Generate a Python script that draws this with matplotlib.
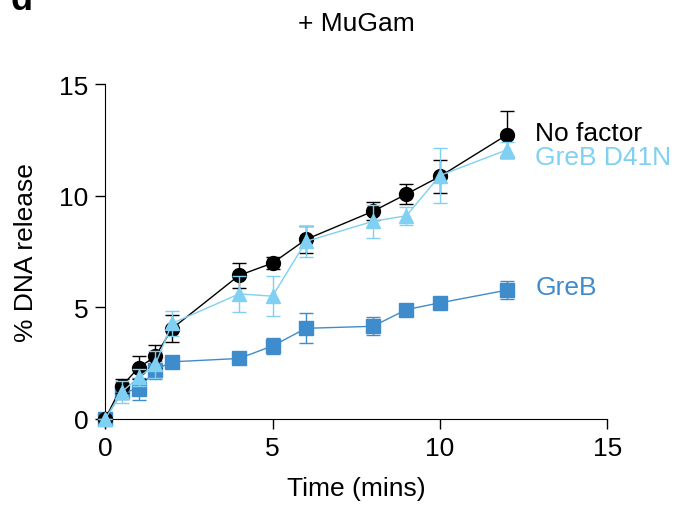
import matplotlib.pyplot as plt

plt.rcParams['font.family'] = ['Liberation Sans', 'DejaVu Sans']

# time points (mins)
time = [0, 0.5, 1, 1.5, 2, 4, 5, 6, 8, 9, 10, 12]

# % DNA release, mean and error
no_factor = [0, 1.48, 2.3, 2.8, 4.05, 6.43, 6.98, 8.04, 9.3, 10.07, 10.86, 12.72]
no_factor_err = [0, 0.3, 0.5, 0.5, 0.6, 0.57, 0.28, 0.6, 0.4, 0.44, 0.72, 1.05]

d41n = [0, 1.22, 1.86, 2.45, 4.28, 5.6, 5.5, 7.95, 8.85, 9.1, 10.9, 12.05]
d41n_err = [0, 0.5, 0.4, 0.6, 0.56, 0.82, 0.9, 0.69, 0.73, 0.4, 1.25, 0.37]

greb = [0, 1.2, 1.34, 2.2, 2.56, 2.71, 3.27, 4.06, 4.15, 4.9, 5.2, 5.77]
greb_err = [0, 0.3, 0.5, 0.4, 0.1, 0.1, 0.36, 0.67, 0.4, 0.15, 0.15, 0.4]

black = '#000000'
light_blue = '#7fd0f3'
blue = '#3f8ccc'

fig = plt.figure(figsize=(6.74, 5.06), dpi=100)
ax = fig.add_axes([0.156, 0.170, 0.745, 0.662])

#squares first, triangles drawn on top
ax.errorbar(time, greb, yerr=greb_err, color=blue, marker='s', markersize=9.5,
            linewidth=1, elinewidth=1, capsize=5, capthick=1, clip_on=False, zorder=2)
ax.errorbar(time, no_factor, yerr=no_factor_err, color=black, marker='o', markersize=10,
            linewidth=1, elinewidth=1, capsize=5, capthick=1, clip_on=False, zorder=3)
ax.errorbar(time, d41n, yerr=d41n_err, color=light_blue, marker='^', markersize=10.5,
            linewidth=1, elinewidth=1, capsize=5, capthick=1, clip_on=False, zorder=4)

ax.set_xlim(0, 15)
ax.set_ylim(0, 15)
ax.set_xticks([0, 5, 10, 15])
ax.set_yticks([0, 5, 10, 15])
ax.spines['top'].set_visible(False)
ax.spines['right'].set_visible(False)
ax.tick_params(direction='out', length=7, width=1, labelsize=19, pad=5)
ax.set_xlabel('Time (mins)', fontsize=19, labelpad=12)
ax.set_ylabel('% DNA release', fontsize=19, labelpad=15)
ax.set_title('+ MuGam', fontsize=19, pad=39)

# series labels
ax.text(12.85, no_factor[-1] + 0.1, 'No factor', color=black, fontsize=19, va='center')
ax.text(12.85, 11.75, 'GreB D41N', color=light_blue, fontsize=19, va='center')
ax.text(12.85, greb[-1] + 0.15, 'GreB', color=blue, fontsize=19, va='center')

# panel letter (cut at top edge as in the original)
fig.text(0.015, 1.0, 'd', fontsize=26, fontweight='bold', va='center')

fig.savefig('out.png', dpi=100)
